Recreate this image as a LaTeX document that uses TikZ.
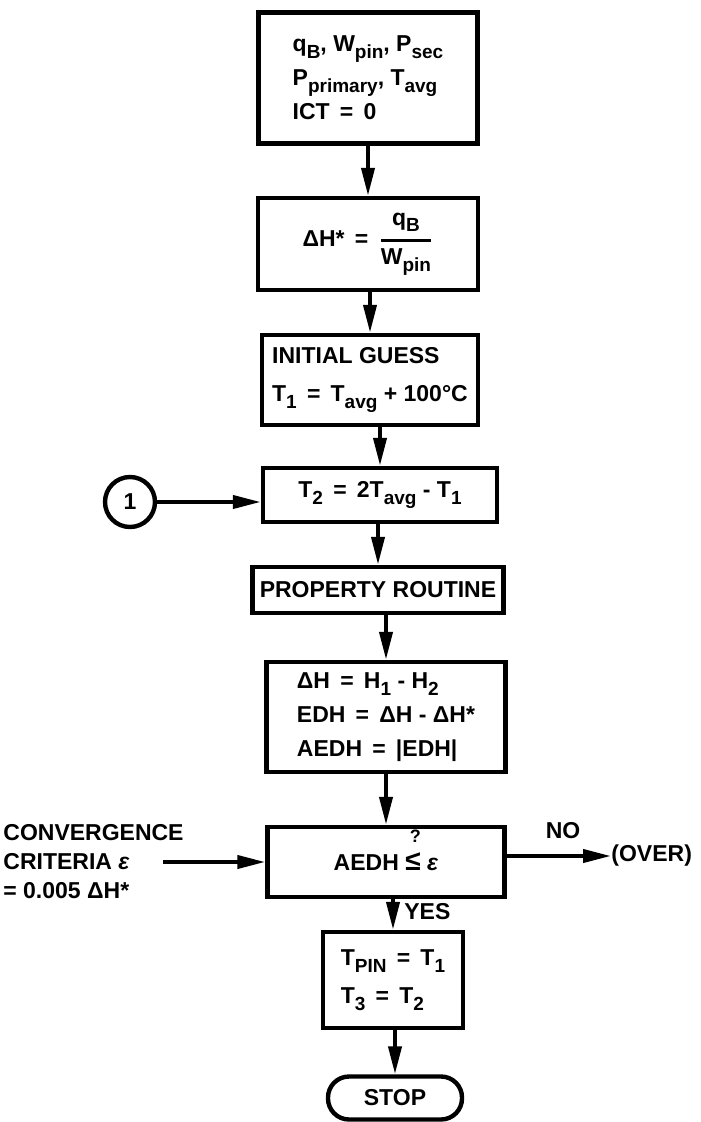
\documentclass[tikz,border=0pt]{standalone}
\usepackage{amsmath}
\usepackage{fontspec}
\setmainfont{Liberation Sans}
\usetikzlibrary{arrows.meta,positioning}
\newcommand{\lowx}[1]{\raisebox{-0.55ex}{\fontsize{9.5}{10}\selectfont #1}}
\newcommand{\askle}{\smash{\rlap{\raisebox{2.3ex}{\hspace{0.2em}\fontsize{9}{9}\selectfont ?}}}{\fontsize{14}{14}\selectfont ≤}}
\tikzset{
  flowbox/.style={draw, line width=2.2pt, align=center, inner sep=2pt, font=\fontsize{11.5}{17}\selectfont\bfseries},
  flowleft/.style={flowbox, align=left},
  flowarrow/.style={-{Triangle[length=14pt,width=6.5pt]}, line width=2pt},
  flowtext/.style={font=\fontsize{11.5}{14.5}\selectfont\bfseries, inner sep=0pt},
  connnode/.style={circle, draw, line width=2.2pt, minimum size=25pt, inner sep=0pt, font=\fontsize{11.5}{14}\selectfont\bfseries},
  stopnode/.style={draw, rounded corners=10.5pt, line width=2.2pt, minimum width=67pt, minimum height=21.5pt, font=\fontsize{11.5}{14}\selectfont\bfseries}
}
\begin{document}
\begin{tikzpicture}[x=0.5pt, y=-0.5pt]
  \useasboundingbox (0,0) rectangle (700,1122);
  % main column
  \node[flowleft, minimum width=109.5pt, minimum height=65.5pt] (input) at (368,78)
    {q\lowx{B}, W\lowx{pin}, P\lowx{sec}\\P\lowx{primary}, T\lowx{avg}\\ICT \,=\, 0};
  \node[flowbox, minimum width=110pt, minimum height=46pt] (dhstar) at (368,244)
    {ΔH* \,=\, $\genfrac{}{}{1.2pt}{0}{\text{q\lowx{B}}}{\text{W\lowx{pin}}}$};
  \node[flowleft, minimum width=108pt, minimum height=45pt] (guess) at (370,380)
    {INITIAL GUESS\\[2pt]T\lowx{1} \,=\, T\lowx{avg} + 100°C};
  \node[flowbox, minimum width=117pt, minimum height=27pt] (ttwo) at (380,495)
    {T\lowx{2} \,=\, 2T\lowx{avg} - T\lowx{1}};
  \node[flowbox, minimum width=125.5pt, minimum height=23pt, inner sep=1pt] (prop) at (378,590)
    {PROPERTY ROUTINE};
  \node[flowleft, minimum width=119.5pt, minimum height=55pt] (edh) at (386,717)
    {ΔH \,=\, H\lowx{1} - H\lowx{2}\\EDH \,=\, ΔH - ΔH*\\AEDH \,=\, |EDH|};
  \node[flowbox, minimum width=118.5pt, minimum height=35pt] (test) at (386,862)
    {AEDH\ \askle\ \textit{ε}};
  \node[flowleft, minimum width=70pt, minimum height=48pt] (tpin) at (393,980)
    {T\lowx{PIN} \,=\, T\lowx{1}\\[2pt]T\lowx{3} \,=\, T\lowx{2}};
  \node[stopnode] (stop) at (395,1098) {STOP};

  % side items
  \node[connnode] (conn) at (130,502) {1};
  \node[flowtext, align=left, anchor=west] (crit) at (3,862)
    {CONVERGENCE\\CRITERIA \textit{ε}\\= 0.005 ΔH*};
  \coordinate (critend) at (163,862);
  \node[flowtext, anchor=west] (over) at (611,856) {(OVER)};
  \node[flowtext] (nolab) at (563,831) {NO};
  \node[flowtext, anchor=west] (yeslab) at (404,912) {YES};

  \draw[flowarrow] (input.south -| dhstar.north) -- (dhstar.north);
  \draw[flowarrow] (dhstar.south -| guess.north) -- (guess.north);
  \draw[flowarrow] (guess.south -| ttwo.north) -- (ttwo.north);
  \draw[flowarrow] (ttwo.south -| prop.north) -- (prop.north);
  \draw[flowarrow] (prop.south -| edh.north) -- (edh.north);
  \draw[flowarrow] (edh.south -| test.north) -- (test.north);
  \draw[flowarrow] (test.south -| tpin.north) -- (tpin.north);
  \draw[flowarrow] (tpin.south -| stop.north) -- (stop.north);
  \draw[flowarrow] (conn.east) -- (conn.east -| ttwo.west);
  \draw[flowarrow] (critend) -- (critend -| test.west);
  \draw[flowarrow] (test.east |- over.west) -- (over.west);
\end{tikzpicture}
\end{document}
